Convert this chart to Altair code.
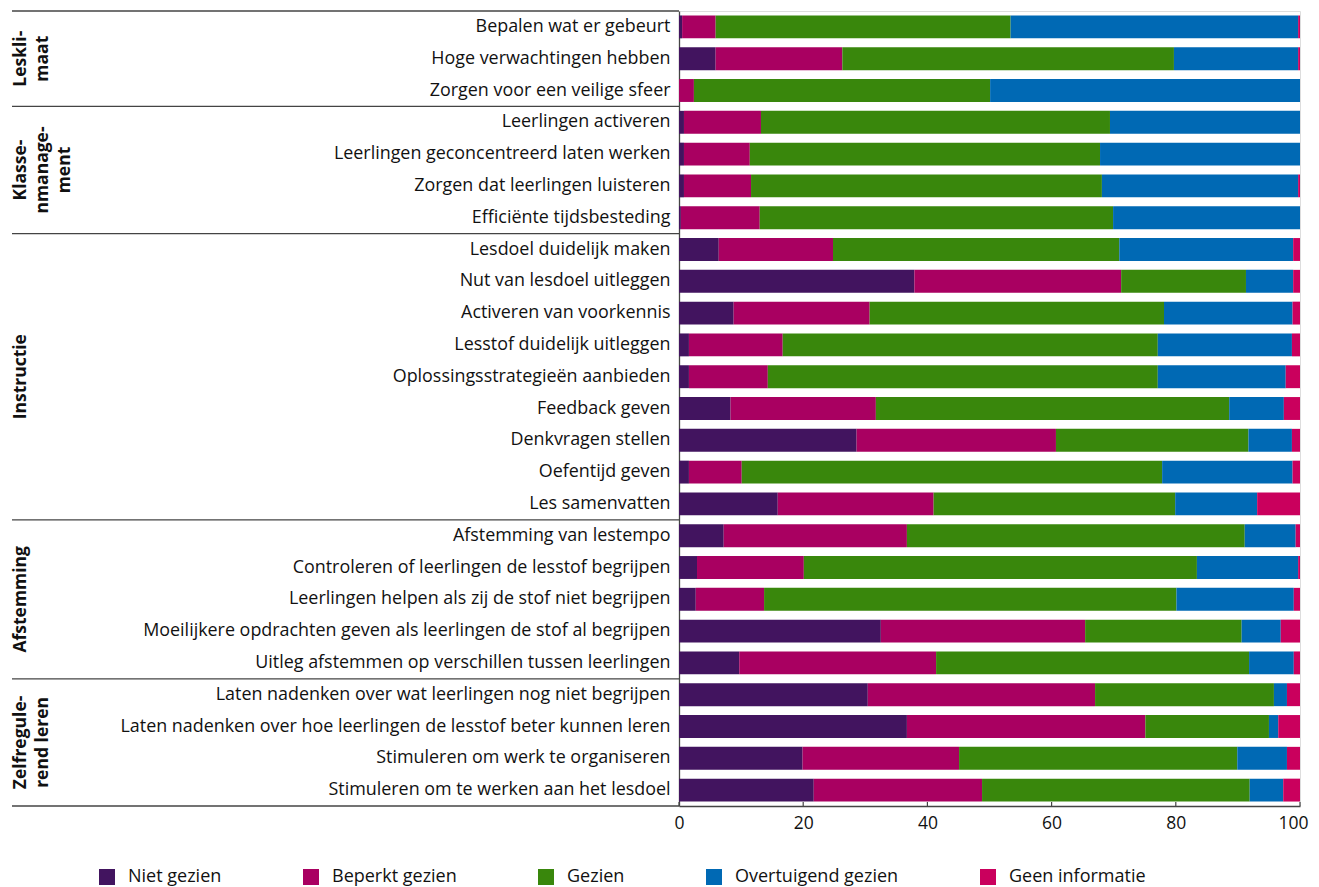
import altair as alt
import pandas as pd

rows = [
    "Bepalen wat er gebeurt",
    "Hoge verwachtingen hebben",
    "Zorgen voor een veilige sfeer",
    "Leerlingen activeren",
    "Leerlingen geconcentreerd laten werken",
    "Zorgen dat leerlingen luisteren",
    "Efficiënte tijdsbesteding",
    "Lesdoel duidelijk maken",
    "Nut van lesdoel uitleggen",
    "Activeren van voorkennis",
    "Lesstof duidelijk uitleggen",
    "Oplossingsstrategieën aanbieden",
    "Feedback geven",
    "Denkvragen stellen",
    "Oefentijd geven",
    "Les samenvatten",
    "Afstemming van lestempo",
    "Controleren of leerlingen de lesstof begrijpen",
    "Leerlingen helpen als zij de stof niet begrijpen",
    "Moeilijkere opdrachten geven als leerlingen de stof al begrijpen",
    "Uitleg afstemmen op verschillen tussen leerlingen",
    "Laten nadenken over wat leerlingen nog niet begrijpen",
    "Laten nadenken over hoe leerlingen de lesstof beter kunnen leren",
    "Stimuleren om werk te organiseren",
    "Stimuleren om te werken aan het lesdoel",
]

categories = ["Niet gezien", "Beperkt gezien", "Gezien", "Overtuigend gezien", "Geen informatie"]
colors = ["#42145f", "#a90061", "#39870c", "#0069b4", "#ca005d"]

niet_gezien = [0.5, 5.9, 0.0, 0.8, 0.8, 0.8, 0.3, 6.4, 37.9, 8.8, 1.6, 1.6, 8.3, 28.6, 1.6, 15.9,
               7.2, 2.9, 2.7, 32.5, 9.7, 30.4, 36.7, 19.9, 21.7]
beperkt_gezien = [5.4, 20.4, 2.4, 12.4, 10.6, 10.8, 12.7, 18.4, 33.3, 21.9, 15.1, 12.7, 23.4, 32.1, 8.5, 25.1,
                  29.5, 17.2, 11.0, 32.9, 31.7, 36.6, 38.4, 25.2, 27.1]
gezien = [47.5, 53.4, 47.7, 56.2, 56.4, 56.5, 56.9, 46.1, 20.1, 47.4, 60.4, 62.8, 56.9, 31.0, 67.7, 38.9,
          54.4, 63.3, 66.4, 25.2, 50.4, 28.8, 19.9, 44.8, 43.1]
overtuigend_gezien = [46.3, 20.0, 49.9, 30.6, 32.2, 31.6, 30.1, 28.0, 7.6, 20.7, 21.6, 20.6, 8.8, 7.0, 21.0, 13.2,
                      8.2, 16.3, 18.9, 6.3, 7.2, 2.1, 1.5, 8.0, 5.4]
geen_informatie = [0.3, 0.3, 0.0, 0.0, 0.0, 0.3, 0.0, 1.1, 1.1, 1.2, 1.3, 2.3, 2.6, 1.3, 1.2, 6.9,
                   0.7, 0.3, 1.0, 3.1, 1.0, 2.1, 3.5, 2.1, 2.7]

tick_values = [0, 20, 40, 60, 80, 100]

# group labels: (text, anchor row) ; odd groups centred on a row, even groups between rows
groups_odd = [
    ("Instructie", "Oplossingsstrategieën aanbieden"),
    ("Afstemming", "Leerlingen helpen als zij de stof niet begrijpen"),
    ("Leskli-\nmaat", "Hoge verwachtingen hebben"),
]
groups_even = [
    ("Klasse-\nnmanage-\nment", "Leerlingen geconcentreerd laten werken"),
    ("Zelfregule-\nrend leren", "Laten nadenken over hoe leerlingen de lesstof beter kunnen leren"),
]
group_last_rows = [
    "Zorgen voor een veilige sfeer",
    "Efficiënte tijdsbesteding",
    "Les samenvatten",
    "Uitleg afstemmen op verschillen tussen leerlingen",
    "Stimuleren om te werken aan het lesdoel",
]
group_first_rows = ["Bepalen wat er gebeurt"]

series = [niet_gezien, beperkt_gezien, gezien, overtuigend_gezien, geen_informatie]
records = []
for ci, (cat, vals) in enumerate(zip(categories, series)):
    for r, v in zip(rows, vals):
        records.append({"item": r, "cat": cat, "order": ci, "value": v})
df = pd.DataFrame(records)

FONT = "Open Sans"
H = 795
W = 621
STEP = H / len(rows)
LEFT = -667

yscale = alt.Scale(domain=rows, paddingInner=0.28, paddingOuter=0.14)
xscale = alt.Scale(domain=[0, 100], nice=False)

bars = alt.Chart(df).mark_bar().encode(
    x=alt.X("value:Q", stack="zero", scale=xscale,
            axis=alt.Axis(values=tick_values, title=None, grid=False,
                          labelFontSize=17.5, labelFont=FONT, labelColor="#111",
                          labelFlush=False, labelOverlap=False,
                          labelOffset={"condition": {"test": "datum.value === 100", "value": -7},
                                       "value": 0},
                          domainColor="#444", ticks=False,
                          labelPadding=8, domainWidth=1.3)),
    y=alt.Y("item:N", scale=yscale, sort=rows,
            axis=alt.Axis(title=None, labelFontSize=17.9, labelFont=FONT, labelColor="#111",
                          labelLimit=700, ticks=False, labelPadding=9,
                          domainColor="#444", domainWidth=1.3)),
    color=alt.Color("cat:N", scale=alt.Scale(domain=categories, range=colors),
                    legend=alt.Legend(title=None, orient="none", direction="horizontal",
                                      columns=5, legendX=-581, legendY=857,
                                      symbolType="square", symbolSize=256,
                                      symbolStrokeWidth=0, labelFontSize=18,
                                      labelFont=FONT, labelColor="#111", labelLimit=300,
                                      columnPadding=80, labelOffset=12)),
    order=alt.Order("order:Q"),
)

# inward-pointing axis ticks
ticks = alt.Chart(pd.DataFrame({"v": tick_values})).mark_rule(
    color="#444", strokeWidth=1.2
).encode(
    x=alt.X("v:Q", scale=xscale),
    y=alt.value(H - 4), y2=alt.value(H),
)

sep_bottom = alt.Chart(pd.DataFrame({"item": group_last_rows})).mark_rule(
    color="#444", strokeWidth=1.3, yOffset=STEP / 2
).encode(
    y=alt.Y("item:N", scale=yscale, sort=rows),
    x=alt.value(LEFT), x2=alt.value(0),
)
sep_top = alt.Chart(pd.DataFrame({"item": group_first_rows})).mark_rule(
    color="#444", strokeWidth=1.3, yOffset=-STEP / 2
).encode(
    y=alt.Y("item:N", scale=yscale, sort=rows),
    x=alt.value(LEFT), x2=alt.value(0),
)

lab_odd = alt.Chart(pd.DataFrame(groups_odd, columns=["label", "item"])).mark_text(
    angle=270, align="center", baseline="top", fontSize=17.5, fontWeight="bold",
    font=FONT, color="#111", lineBreak="\n", lineHeight=22
).encode(
    y=alt.Y("item:N", scale=yscale, sort=rows),
    x=alt.value(LEFT),
    text="label:N",
)
lab_even = alt.Chart(pd.DataFrame(groups_even, columns=["label", "item"])).mark_text(
    angle=270, align="center", baseline="top", fontSize=17.5, fontWeight="bold",
    font=FONT, color="#111", lineBreak="\n", lineHeight=22, yOffset=STEP / 2
).encode(
    y=alt.Y("item:N", scale=yscale, sort=rows),
    x=alt.value(LEFT),
    text="label:N",
)

chart = alt.layer(bars, ticks, sep_bottom, sep_top, lab_odd, lab_even).properties(
    width=W, height=H,
    autosize=alt.AutoSizeParams(type="none"),
    padding={"left": 671, "top": 3, "right": 11, "bottom": 90},
).configure_view(stroke=None).configure(font=FONT)

chart.save("out.html", embed_options={"renderer": "svg", "actions": False})
